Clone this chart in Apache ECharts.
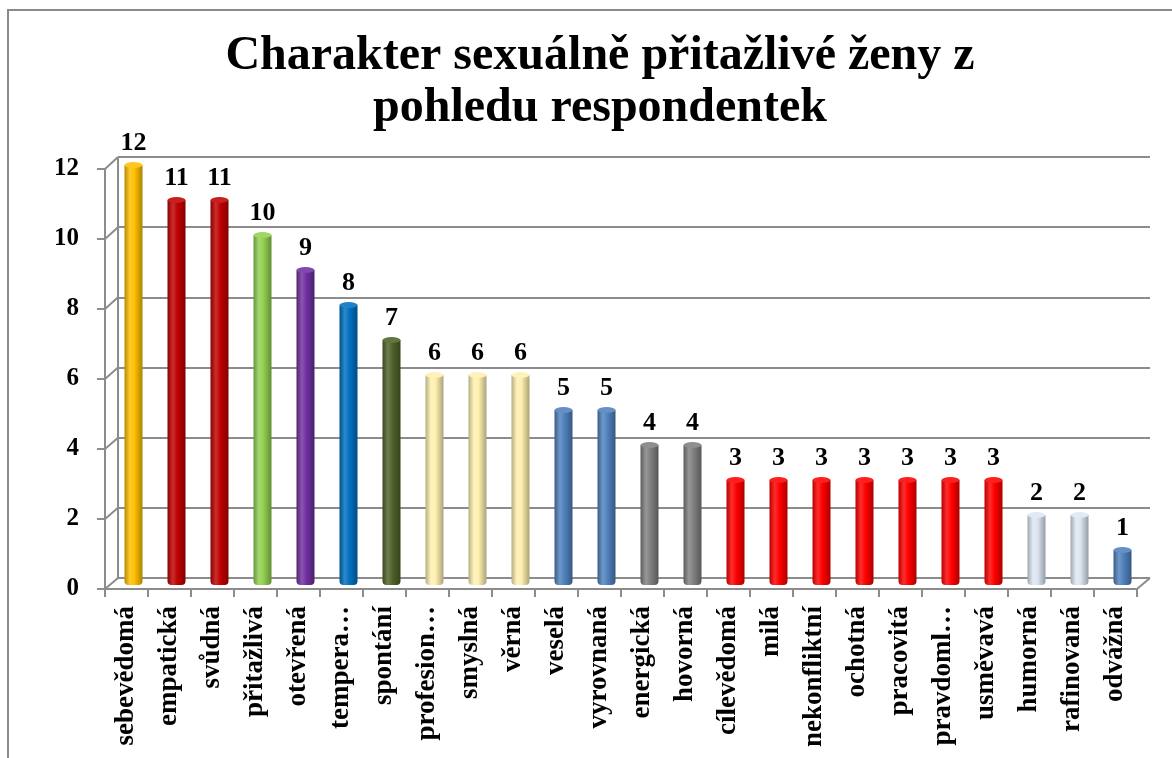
<!DOCTYPE html>
<html>
<head>
<meta charset="utf-8">
<script src="https://cdn.jsdelivr.net/npm/echarts@6/dist/echarts.min.js"></script>
<style>
html,body{margin:0;padding:0;background:#fff;}
#chart{width:1172px;height:758px;}
</style>
</head>
<body>
<div id="chart"></div>
<script>
var titleText = 'Charakter sexuálně přitažlivé ženy z\npohledu respondentek';
var categories = ['sebevědomá','empatická','svůdná','přitažlivá','otevřená','tempera…','spontání','profesion…','smyslná','věrná','veselá','vyrovnaná','energická','hovorná','cílevědomá','milá','nekonfliktní','ochotná','pracovitá','pravdoml…','usměvavá','humorná','rafinovaná','odvážná'];
var values = [12,11,11,10,9,8,7,6,6,6,5,5,4,4,3,3,3,3,3,3,3,2,2,1];
var yTicks = [0,2,4,6,8,10,12];
var barColors = ['#FFC000','#C00000','#C00000','#92D050','#7030A0','#0070C0','#4F6228','#FFF0B0','#FFF0B0','#FFF0B0','#4F81BD','#4F81BD','#808080','#808080','#FF0000','#FF0000','#FF0000','#FF0000','#FF0000','#FF0000','#FF0000','#DCE6F2','#DCE6F2','#4F81BD'];

function hexToRgb(h){h=h.replace('#','');return [parseInt(h.substr(0,2),16),parseInt(h.substr(2,2),16),parseInt(h.substr(4,2),16)];}
function shade(h,f){var c=hexToRgb(h);return 'rgb('+c.map(function(v){var r=f<1?v*f:v+(255-v)*(f-1);return Math.max(0,Math.min(255,Math.round(r)));}).join(',')+')';}
function cyl(h){
  return new echarts.graphic.LinearGradient(0,0,1,0,[
    {offset:0,color:shade(h,0.72)},
    {offset:0.3,color:shade(h,1.18)},
    {offset:0.55,color:h},
    {offset:1,color:shade(h,0.68)}
  ]);
}
var serif = '"Liberation Serif","DejaVu Serif",serif';
var gridCol = '#8c8c8c';

var chart = echarts.init(document.getElementById('chart'));
var option = {
  backgroundColor:'#fff',
  animation:false,
  title:{
    text:titleText,
    left:595, top:26, textAlign:'center',
    textStyle:{fontFamily:serif,fontWeight:'bold',fontSize:48,lineHeight:52,color:'#000'}
  },
  grid:[
    {left:118,right:22,top:157,bottom:180},
    {left:112,right:28,top:165,bottom:173},
    {left:105,right:35,top:169,bottom:169}
  ],
  xAxis:[
    {gridIndex:0,type:'category',data:categories,show:false},
    {gridIndex:1,type:'category',data:categories,show:false},
    {gridIndex:2,type:'category',data:categories,
     axisLine:{lineStyle:{color:gridCol,width:2}},
     axisTick:{show:true,interval:0,length:8,lineStyle:{color:gridCol,width:2}},
     axisLabel:{interval:0,rotate:90,margin:17,fontFamily:serif,fontWeight:'bold',fontSize:27,color:'#000'}
    }
  ],
  yAxis:[
    {gridIndex:0,type:'value',min:0,max:12,interval:2,
     axisLine:{show:false},axisTick:{show:false},axisLabel:{show:false},
     splitLine:{show:true,lineStyle:{color:gridCol,width:2}}},
    {gridIndex:1,type:'value',min:0,max:12,interval:2,show:false,splitLine:{show:false}},
    {gridIndex:2,type:'value',min:0,max:12,interval:2,
     axisLine:{show:true,lineStyle:{color:gridCol,width:2}},
     axisTick:{show:true,length:8,lineStyle:{color:gridCol,width:2}},
     splitLine:{show:false},
     axisLabel:{margin:26,fontFamily:serif,fontWeight:'bold',fontSize:25,color:'#000',
       formatter:function(v){return yTicks.indexOf(v)>=0?String(v):'';}}
    }
  ],
  series:[
    {type:'bar',xAxisIndex:1,yAxisIndex:1,barWidth:18,z:3,
     data:values.map(function(v,i){return {value:v,itemStyle:{color:cyl(barColors[i]),borderRadius:[0,0,4,4]}};}),
     label:{show:true,position:'top',distance:9,fontFamily:serif,fontWeight:'bold',fontSize:26,color:'#000'}
    },
    {type:'pictorialBar',xAxisIndex:1,yAxisIndex:1,barWidth:18,z:4,
     symbol:'circle',symbolSize:[18,6],symbolPosition:'end',symbolOffset:[0,'-50%'],
     data:values.map(function(v,i){return {value:v,itemStyle:{color:shade(barColors[i],1.12)}};}),
     silent:true
    }
  ]
};
chart.setOption(option);

// 3D box decorations (wall edges) derived from the axes
var gfx = [];
var lineStyle = {stroke:gridCol,lineWidth:2};
yTicks.forEach(function(v){
  var f = chart.convertToPixel({yAxisIndex:2},v);
  var b = chart.convertToPixel({yAxisIndex:0},v);
  gfx.push({type:'line',shape:{x1:105,y1:f,x2:118,y2:b},style:lineStyle,z:1});
});
var bTop = chart.convertToPixel({yAxisIndex:0},12);
var bBot = chart.convertToPixel({yAxisIndex:0},0);
var fBot = chart.convertToPixel({yAxisIndex:2},0);
gfx.push({type:'line',shape:{x1:118,y1:bTop,x2:118,y2:bBot},style:lineStyle,z:1});
gfx.push({type:'line',shape:{x1:1137,y1:fBot,x2:1150,y2:bBot},style:lineStyle,z:1});
// outer chart frame
gfx.push({type:'polyline',shape:{points:[[8,758],[8,10],[1172,10]]},style:{stroke:'#8a8a8a',lineWidth:2,fill:null},z:0});
chart.setOption({graphic:gfx});
</script>
</body>
</html>
